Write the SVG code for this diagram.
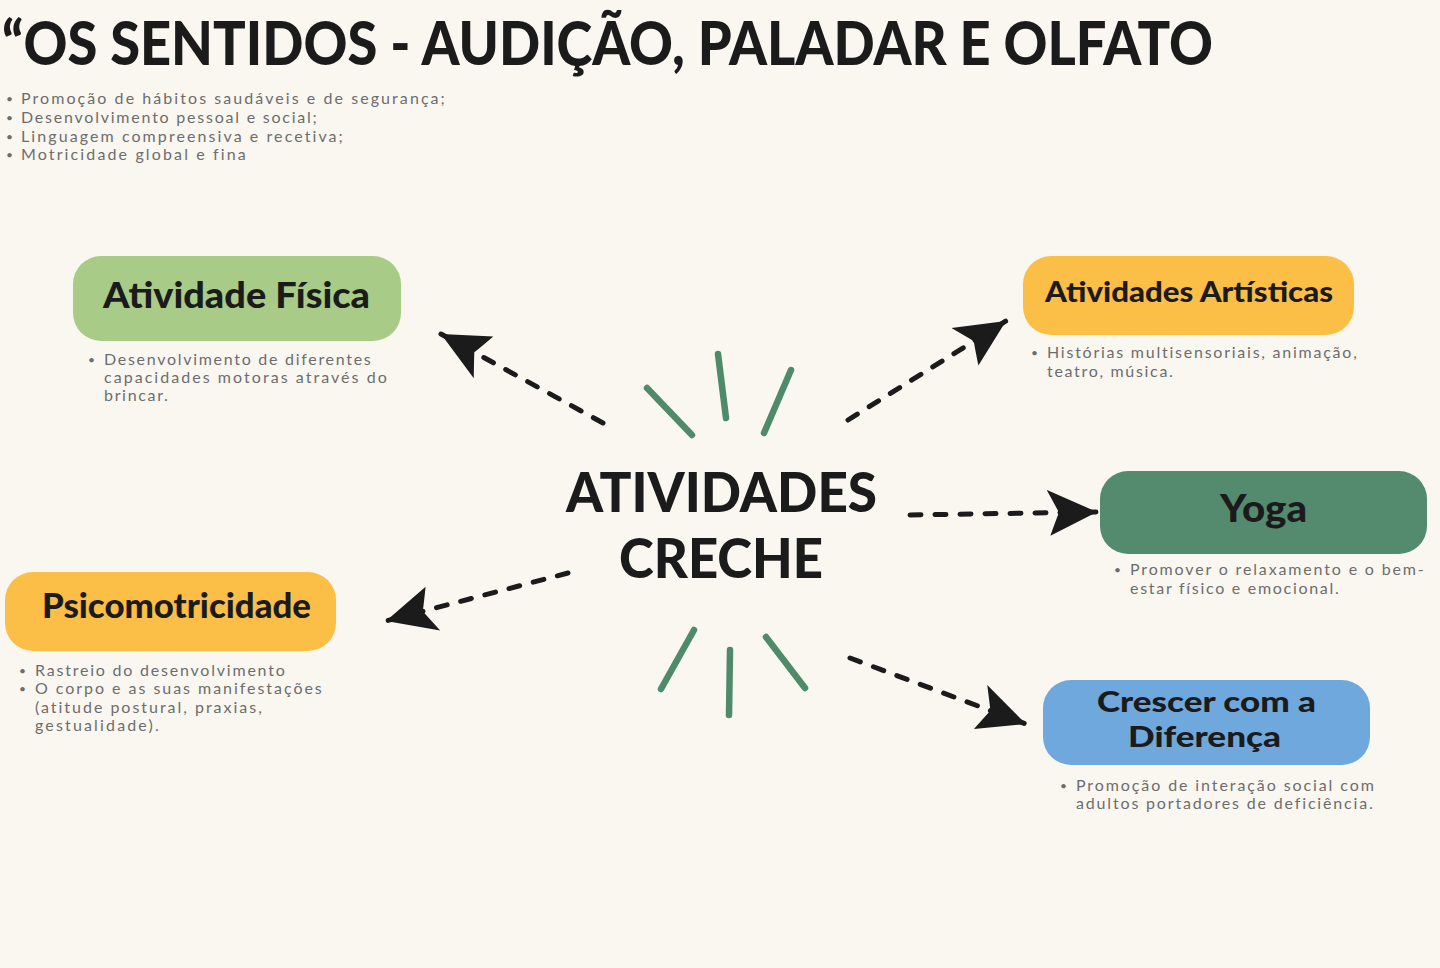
<svg xmlns="http://www.w3.org/2000/svg" width="1440" height="968" viewBox="0 0 1440 968">
<defs>
<style>
.bg{fill:#faf7f1}
.title{font-family:Lato,"Open Sans",sans-serif;font-weight:900;font-size:60px;fill:#1b1b1b}
.head{font-family:Lato,"Open Sans",sans-serif;font-weight:900;fill:#1b1b1b}
.body{font-family:Lato,"Open Sans",sans-serif;font-weight:400;font-size:16px;fill:#6d6d6d;letter-spacing:1.2px}
.dot{font-family:Lato,"Open Sans",sans-serif;font-size:12px;fill:#6d6d6d}
.center{font-family:Lato,"Open Sans",sans-serif;font-weight:900;font-size:56px;fill:#1b1b1b}
.conn{fill:none;stroke:#1b1b1b;stroke-width:5;stroke-linecap:round;stroke-dasharray:11 14}
.ray{stroke:#4f8a6b;stroke-width:6.5;stroke-linecap:round}
</style>
<marker id="ah" markerUnits="userSpaceOnUse" viewBox="0 -26 52 52" markerWidth="52" markerHeight="52" refX="50" refY="0" orient="auto">
<path d="M50,0 L0,-23 Q9,-6 12,0 Q9,7 3,23 Z" fill="#1b1b1b"/>
</marker>
</defs>
<rect class="bg" x="0" y="0" width="1440" height="968"/>
<g id="title">
<text class="title" x="2" y="65" textLength="1211" lengthAdjust="spacingAndGlyphs">“OS SENTIDOS - AUDIÇÃO, PALADAR E OLFATO</text>
</g>
<g id="goals">
<text class="dot" x="6" y="103">•</text><text class="body" x="21" y="104" textLength="425">Promoção de hábitos saudáveis e de segurança;</text>
<text class="dot" x="6" y="122">•</text><text class="body" x="21" y="123" textLength="297">Desenvolvimento pessoal e social;</text>
<text class="dot" x="6" y="141">•</text><text class="body" x="21" y="142" textLength="323">Linguagem compreensiva e recetiva;</text>
<text class="dot" x="6" y="159">•</text><text class="body" x="21" y="160" textLength="226">Motricidade global e fina</text>
</g>
<g id="connectors">
<line class="conn" x1="603" y1="423" x2="441" y2="334" marker-end="url(#ah)"/>
<line class="conn" x1="848" y1="420" x2="1006" y2="321" marker-end="url(#ah)"/>
<line class="conn" x1="910" y1="515" x2="1097" y2="512" marker-end="url(#ah)"/>
<line class="conn" x1="850" y1="658" x2="1026" y2="724" marker-end="url(#ah)"/>
<line class="conn" x1="568" y1="573" x2="386" y2="621" marker-end="url(#ah)"/>
</g>
<g id="center">
<line class="ray" x1="647" y1="388" x2="692" y2="435"/>
<line class="ray" x1="718" y1="354" x2="726" y2="418"/>
<line class="ray" x1="791" y1="370" x2="764" y2="433"/>
<line class="ray" x1="694" y1="630" x2="661" y2="689"/>
<line class="ray" x1="730" y1="650" x2="729" y2="715"/>
<line class="ray" x1="766" y1="637" x2="805" y2="688"/>
<text class="center" x="566" y="512" textLength="311" lengthAdjust="spacingAndGlyphs">ATIVIDADES</text>
<text class="center" x="619" y="578" textLength="204" lengthAdjust="spacingAndGlyphs">CRECHE</text>
</g>
<g id="atividade-fisica">
<rect x="73" y="256" width="328" height="85" rx="28" fill="#a8cc87"/>
<text class="head" x="103" y="308" font-size="36" textLength="267" lengthAdjust="spacingAndGlyphs">Atividade Física</text>
<text class="dot" x="88" y="364">•</text>
<text class="body" x="104" y="365" textLength="268">Desenvolvimento de diferentes</text>
<text class="body" x="104" y="383" textLength="284">capacidades motoras através do</text>
<text class="body" x="104" y="401" textLength="65">brincar.</text>
</g>
<g id="atividades-artisticas">
<rect x="1023" y="256" width="331" height="79" rx="28" fill="#fbbf47"/>
<text class="head" x="1045" y="302" font-size="28" textLength="288" lengthAdjust="spacingAndGlyphs">Atividades Artísticas</text>
<text class="dot" x="1031" y="357">•</text>
<text class="body" x="1047" y="358" textLength="311">Histórias multisensoriais, animação,</text>
<text class="body" x="1047" y="377" textLength="127">teatro, música.</text>
</g>
<g id="yoga">
<rect x="1100" y="471" width="327" height="83" rx="28" fill="#548a6e"/>
<text class="head" x="1220" y="522" font-size="37" textLength="87" lengthAdjust="spacingAndGlyphs">Yoga</text>
<text class="dot" x="1114" y="574">•</text>
<text class="body" x="1130" y="575" textLength="295">Promover o relaxamento e o bem-</text>
<text class="body" x="1130" y="594" textLength="210">estar físico e emocional.</text>
</g>
<g id="crescer-com-a-diferenca">
<rect x="1043" y="680" width="327" height="85" rx="28" fill="#6fa8dc"/>
<text class="head" x="1097" y="712" font-size="28" textLength="219" lengthAdjust="spacingAndGlyphs">Crescer com a</text>
<text class="head" x="1128" y="747" font-size="28" textLength="153" lengthAdjust="spacingAndGlyphs">Diferença</text>
<text class="dot" x="1060" y="790">•</text>
<text class="body" x="1076" y="791" textLength="299">Promoção de interação social com</text>
<text class="body" x="1076" y="809" textLength="298">adultos portadores de deficiência.</text>
</g>
<g id="psicomotricidade">
<rect x="5" y="572" width="331" height="79" rx="28" fill="#fbbf47"/>
<text class="head" x="42" y="618" font-size="34" textLength="269" lengthAdjust="spacingAndGlyphs">Psicomotricidade</text>
<text class="dot" x="19" y="675">•</text>
<text class="body" x="35" y="676" textLength="251">Rastreio do desenvolvimento</text>
<text class="dot" x="19" y="693">•</text>
<text class="body" x="35" y="694" textLength="288">O corpo e as suas manifestações</text>
<text class="body" x="35" y="713" textLength="228">(atitude postural, praxias,</text>
<text class="body" x="35" y="731" textLength="125">gestualidade).</text>
</g>
</svg>
